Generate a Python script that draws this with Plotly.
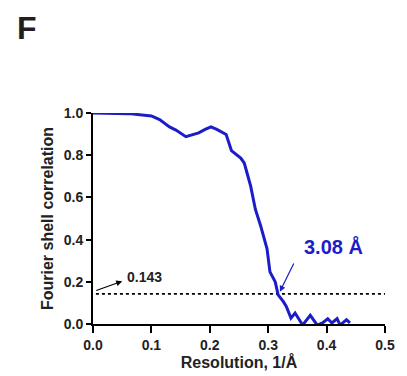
import plotly.graph_objects as go

# FSC curve (resolution in 1/Å, correlation)
res = [0.0, 0.061, 0.100, 0.114, 0.131, 0.142, 0.159, 0.181, 0.192, 0.202, 0.212,
       0.228, 0.237, 0.253, 0.259, 0.270, 0.278, 0.287, 0.298, 0.303, 0.312,
       0.317, 0.326, 0.331, 0.339, 0.346, 0.359, 0.372, 0.384, 0.393, 0.402,
       0.409, 0.418, 0.423, 0.434, 0.440]
fsc = [1.0, 0.997, 0.986, 0.969, 0.934, 0.919, 0.888, 0.906, 0.922, 0.934, 0.922,
       0.898, 0.822, 0.786, 0.763, 0.653, 0.544, 0.466, 0.356, 0.247, 0.200,
       0.138, 0.106, 0.083, 0.028, 0.052, -0.005, 0.041, -0.005, 0.005, 0.025,
       0.005, 0.025, -0.005, 0.020, 0.005]

threshold = 0.143
threshold_x = [0.005, 0.5]
x_ticks = [0.0, 0.1, 0.2, 0.3, 0.4, 0.5]
y_ticks = [0.0, 0.2, 0.4, 0.6, 0.8, 1.0]
res_label = "3.08 Å"

FONT = "Arial, Liberation Sans, sans-serif"
BLUE = "#1c1cc8"

fig = go.Figure()
fig.add_trace(go.Scatter(x=threshold_x, y=[threshold, threshold], mode="lines",
                         line=dict(color="black", width=1.6, dash="dot"),
                         hoverinfo="skip", showlegend=False))
fig.add_trace(go.Scatter(x=res, y=fsc, mode="lines",
                         line=dict(color=BLUE, width=3), showlegend=False))

# 0.143 label with arrow
fig.add_annotation(x=0.05, y=0.203, ax=0.003, ay=0.156, xref="x", yref="y",
                   axref="x", ayref="y", showarrow=True, arrowhead=2,
                   arrowsize=1, arrowwidth=1.2, arrowcolor="black", text="")
fig.add_annotation(x=0.055, y=0.222, xref="x", yref="y", text="<b>0.143</b>",
                   showarrow=False, xanchor="left", yanchor="middle",
                   font=dict(family=FONT, size=14, color="#222"))
# resolution label with arrow
fig.add_annotation(x=0.320, y=0.153, ax=0.345, ay=0.294, xref="x", yref="y",
                   axref="x", ayref="y", showarrow=True, arrowhead=2,
                   arrowsize=1, arrowwidth=1.2, arrowcolor=BLUE, text="")
fig.add_annotation(x=0.411, y=0.366, xref="x", yref="y", text="<b>" + res_label + "</b>",
                   showarrow=False, xanchor="center", yanchor="middle",
                   font=dict(family=FONT, size=20, color=BLUE))
# panel letter
fig.add_annotation(x=-68/300, y=1 + (113 - 27) / 213, xref="paper", yref="paper",
                   text="<b>F</b>", showarrow=False, xanchor="center", yanchor="middle",
                   font=dict(family=FONT, size=32, color="#231f20"))

fig.update_layout(
    width=407, height=376,
    margin=dict(l=93, r=14, t=113, b=50),
    paper_bgcolor="white", plot_bgcolor="white",
    font=dict(family=FONT, size=14, color="#222"),
    xaxis=dict(range=[0, 0.5], tickvals=x_ticks, ticktext=["<b>%.1f</b>" % v for v in x_ticks],
               showgrid=False, zeroline=False, showline=True, linecolor="black", linewidth=2,
               ticks="outside", ticklen=7, tickwidth=2, tickcolor="black",
               tickfont=dict(size=14),
               title=dict(text="<b>Resolution, 1/Å</b>", standoff=0,
                          font=dict(family=FONT, size=16))),
    yaxis=dict(range=[0, 1.0], tickvals=y_ticks, ticktext=["<b>%.1f</b>" % v for v in y_ticks],
               showgrid=False, zeroline=False, showline=True, linecolor="black", linewidth=2,
               ticks="outside", ticklen=5, tickwidth=2, tickcolor="black",
               tickfont=dict(size=14),
               title=dict(text="<b>Fourier shell correlation</b>", standoff=6,
                          font=dict(family=FONT, size=16))),
)
fig.write_html("out.html")
